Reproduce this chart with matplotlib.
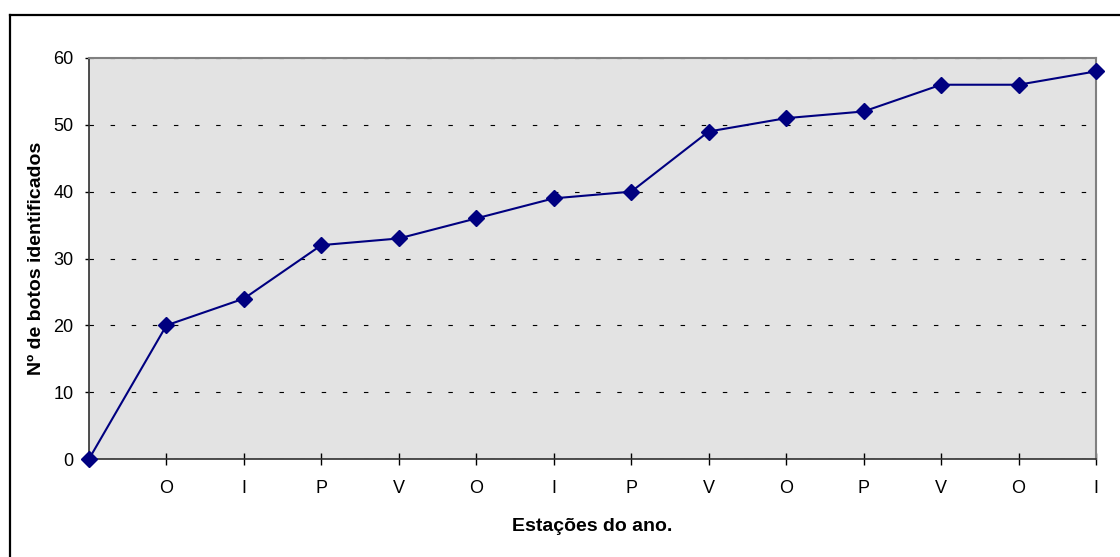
import matplotlib.pyplot as plt
from matplotlib.lines import Line2D

plt.rcParams['font.family'] = ['Liberation Sans', 'DejaVu Sans']

# estações do ano (primeiro ponto sem rótulo)
estacoes = ["O", "I", "P", "V", "O", "I", "P", "V", "O", "P", "V", "O", "I"]
botos = [0, 20, 24, 32, 33, 36, 39, 40, 49, 51, 52, 56, 56, 58]

fig = plt.figure(figsize=(11.2, 5.57), dpi=100)
ax = fig.add_axes([89 / 1120, 98 / 557, 1007 / 1120, 401 / 557])
ax.set_facecolor('#E3E3E3')

xs = list(range(len(botos)))
ax.plot(xs, botos, color='#000080', linewidth=1.5, marker='D', markersize=8,
        clip_on=False, zorder=3)

ax.set_xlim(0, len(botos) - 1)
ax.set_ylim(0, 60)
ax.set_xticks(range(1, len(botos)))
ax.set_xticklabels(estacoes)
ax.set_yticks(range(0, 61, 10))

ax.grid(axis='y', color='black', linewidth=0.8, linestyle=(0, (4, 15)))
ax.set_axisbelow(True)

for s in ['top', 'right']:
    ax.spines[s].set_color('#808080')
    ax.spines[s].set_linewidth(1.5)
for s in ['left', 'bottom']:
    ax.spines[s].set_color('#303030')
    ax.spines[s].set_linewidth(1.2)

ax.tick_params(axis='x', direction='inout', length=9, width=1, pad=10.5, labelsize=13)
ax.tick_params(axis='y', direction='out', length=3, width=1, pad=8, labelsize=13)

ax.set_xlabel("Estações do ano.", fontsize=14, fontweight='bold', labelpad=15.5)
ax.set_ylabel("Nº de botos identificados", fontsize=14, fontweight='bold', labelpad=6)

# moldura externa (só topo e esquerda visíveis)
fig.add_artist(Line2D([10 / 1120, 10 / 1120], [0, 1 - 15 / 557], color='black', linewidth=1.6))
fig.add_artist(Line2D([10 / 1120, 1], [1 - 15 / 557, 1 - 15 / 557], color='black', linewidth=1.6))

fig.savefig('out.png', dpi=100)
